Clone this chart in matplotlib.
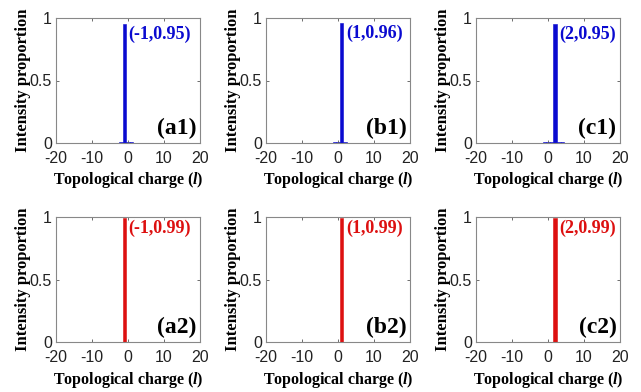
import numpy as np
import matplotlib
matplotlib.use("Agg")
import matplotlib.pyplot as plt

charge = np.arange(-20, 21)

# dominant mode and its weight per panel
peaks_top = [(-1, 0.95), (1, 0.96), (2, 0.95)]
peaks_bot = [(-1, 0.99), (1, 0.99), (2, 0.99)]
# small side-lobes (charge: weight)
side_top = [{-2: 0.012, 0: 0.01, 1: 0.006, 2: 0.004, 3: 0.003},
            {-1: 0.008, 0: 0.01, 2: 0.01, 3: 0.004},
            {-4: 0.003, -3: 0.004, -2: 0.004, -1: 0.005, 0: 0.006, 1: 0.01, 3: 0.01, 4: 0.005}]
side_bot = [{-2: 0.004, 0: 0.004}, {0: 0.004, 2: 0.004}, {1: 0.004, 3: 0.004}]
labels_top = ["(a1)", "(b1)", "(c1)"]
labels_bot = ["(a2)", "(b2)", "(c2)"]

blue = "#0a0ad0"
red = "#dd1010"

plt.rcParams["axes.unicode_minus"] = False
plt.rcParams["mathtext.fontset"] = "custom"
plt.rcParams["mathtext.it"] = "Liberation Serif:italic:bold"
plt.rcParams["mathtext.rm"] = "Liberation Serif:bold"

fig = plt.figure(figsize=(6.41, 3.92), dpi=100)
W, H = 641.0, 392.0
lefts = [56, 266, 476]
width = 144


def make_panel(left, top, bottom, peak, side, label, color):
    ax = fig.add_axes([left / W, 1 - bottom / H, width / W, (bottom - top) / H])
    vals = np.zeros_like(charge, dtype=float)
    for k, v in side.items():
        vals[charge == k] = v
    vals[charge == peak[0]] = peak[1]
    ax.bar(charge, vals, width=1.0, color=color, edgecolor=color, linewidth=0.4)
    ax.set_xlim(-20, 20)
    ax.set_ylim(0, 1)
    ax.set_xticks([-20, -10, 0, 10, 20])
    ax.set_yticks([0, 0.5, 1])
    ax.set_yticklabels(["0", "0.5", "1"])
    ax.tick_params(direction="in", top=True, right=True, length=2.5, width=0.6,
                   labelsize=11.5, colors="#555555")
    ax.tick_params(axis="x", pad=6)
    ax.tick_params(axis="y", pad=3)
    for lab in ax.get_xticklabels() + ax.get_yticklabels():
        lab.set_family("Liberation Sans")
        lab.set_color("#222222")
    for s in ax.spines.values():
        s.set_color("#888888")
        s.set_linewidth(0.8)
    ax.set_xlabel(r"Topological charge ($\mathit{l}$)", fontsize=11.5,
                  family="Liberation Serif", fontweight="bold", labelpad=3)
    ax.set_ylabel("Intensity proportion", fontsize=12,
                  family="Liberation Serif", fontweight="bold", labelpad=-1)
    ax.text(peak[0] + 1.2, peak[1] * 0.99, "(%d,%.2f)" % peak, color=color,
            fontsize=13, family="Liberation Serif", fontweight="bold",
            ha="left", va="top")
    ax.text(19, 0.03, label, fontsize=17, family="Liberation Serif",
            fontweight="bold", ha="right", va="bottom")
    return ax


for i in range(3):
    make_panel(lefts[i], 18, 143, peaks_top[i], side_top[i], labels_top[i], blue)
    make_panel(lefts[i], 217, 342, peaks_bot[i], side_bot[i], labels_bot[i], red)

fig.savefig("out.png", dpi=100)
